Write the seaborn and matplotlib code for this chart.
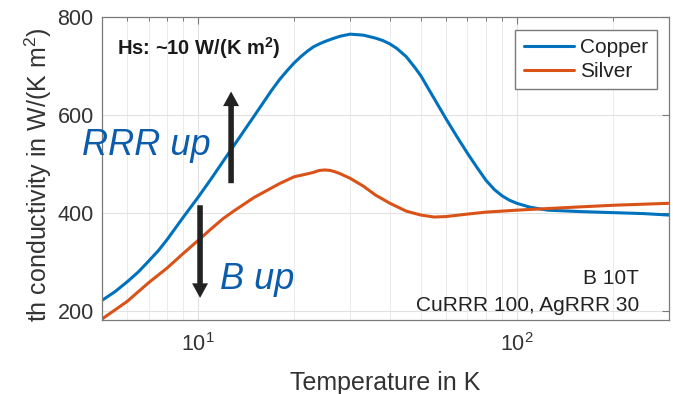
import numpy as np
import pandas as pd
import matplotlib
matplotlib.use("Agg")
import matplotlib.pyplot as plt
from matplotlib.ticker import LogLocator, FixedLocator
import seaborn as sns

# ---- data ----
T_cu = [5, 5.5, 6, 6.5, 7, 7.5, 8, 9, 10, 11, 12, 13, 15, 17, 18, 19, 20, 21,
        22, 23, 24, 25, 26.5, 28, 30, 33, 36, 38, 40, 42, 45, 48, 50, 55, 60, 65,
        70, 75, 80, 85, 90, 95, 100, 110, 125, 160, 200, 250, 300]
k_cu = [222, 240, 260, 280, 302, 323, 346, 392, 432, 470, 506, 539, 598, 650,
        672, 690, 706, 719, 730, 739, 745, 750, 756, 761, 765, 763, 757, 752,
        745, 736, 719, 696, 680, 634, 592, 555, 522, 493, 467, 448, 435, 426,
        420, 412, 406, 403, 401, 399, 396]
T_ag = [5, 6, 7, 8, 9, 10, 11, 12, 13, 15, 18, 20, 22, 23, 24, 25, 26, 27, 28,
        30, 33, 36, 40, 45, 50, 55, 60, 70, 80, 100, 150, 200, 300]
k_ag = [184, 220, 258, 288, 318, 344, 368, 389, 405, 432, 460, 474, 480, 483,
        487, 488, 487, 484, 480, 471, 455, 437, 420, 404, 396, 392, 393, 398,
        402, 406, 412, 416, 420]
series_names = ["Copper", "Silver"]
y_ticks = [200, 400, 600, 800]

df = pd.concat([
    pd.DataFrame({"T": T_cu, "k": k_cu, "Material": series_names[0]}),
    pd.DataFrame({"T": T_ag, "k": k_ag, "Material": series_names[1]}),
])

sns.set_theme(style="white")
plt.rcParams["font.family"] = ["Liberation Sans", "DejaVu Sans"]
plt.rcParams["mathtext.fontset"] = "custom"
plt.rcParams["mathtext.rm"] = "Liberation Sans"
plt.rcParams["mathtext.bf"] = "Liberation Sans:bold"

TXT = "#333333"
fig = plt.figure(figsize=(6.73, 3.94), dpi=100)
ax = fig.add_axes([102 / 673, 1 - 319.5 / 394, 567 / 673, 302.5 / 394])

palette = {"Copper": "#0072BD", "Silver": "#D95319"}
sns.lineplot(data=df, x="T", y="k", hue="Material", palette=palette,
             estimator=None, sort=True, lw=2.2, ax=ax)

ax.set_xscale("log")
ax.set_xlim(5, 300)
ax.set_ylim(183, 800)
ax.yaxis.set_major_locator(FixedLocator(y_ticks))
ax.xaxis.set_major_locator(LogLocator(base=10))
ax.xaxis.set_minor_locator(LogLocator(base=10, subs=np.arange(2, 10)))

ax.grid(True, which="major", color="#e2e2e2", lw=0.8)
ax.grid(True, which="minor", axis="x", color="#ebebeb", lw=0.7)
ax.set_axisbelow(True)
for s in ax.spines.values():
    s.set_color("#7a7a7a")
    s.set_linewidth(0.9)

ax.tick_params(which="both", direction="in", top=True, right=True,
               colors="#7a7a7a", labelcolor=TXT)
ax.tick_params(which="major", length=5, width=0.8, labelsize=15.5)
ax.tick_params(axis="x", which="major", pad=10)
ax.tick_params(axis="y", which="major", pad=6)
ax.tick_params(which="minor", length=3, width=0.7)

ax.set_xlabel("Temperature in K", fontsize=18, color=TXT, va="center")
ax.xaxis.set_label_coords(0.5, -0.21)
ax.set_ylabel("th conductivity in W/(K m$^2$)", fontsize=18, color=TXT, va="center")
ax.yaxis.set_label_coords(-0.113, 0.478)

handles, labels = ax.get_legend_handles_labels()
leg = ax.legend(handles, labels, loc="upper right", fontsize=15, frameon=True,
                fancybox=False, framealpha=1, edgecolor="#7a7a7a",
                handlelength=2.4, borderaxespad=0.6, borderpad=0.4,
                labelspacing=0.25, handletextpad=0.3)
for t in leg.get_texts():
    t.set_color("#222222")

# annotations
ax.text(0.026, 0.874, "Hs: ~10 W/(K m$\\mathbf{^2}$)", transform=ax.transAxes,
        fontsize=14.5, fontweight="bold", color="#1a1a1a", va="baseline")
ax.text(-0.035, 0.544, "RRR up", transform=ax.transAxes, fontsize=26,
        style="italic", color="#0b5cab", va="baseline", clip_on=False)
ax.text(0.208, 0.101, "B up", transform=ax.transAxes, fontsize=26,
        style="italic", color="#0b5cab", va="baseline")
ax.text(0.947, 0.117, "B 10T", transform=ax.transAxes, fontsize=15,
        color="#222222", ha="right", va="baseline")
ax.text(0.947, 0.028, "CuRRR 100, AgRRR 30", transform=ax.transAxes,
        fontsize=15, color="#222222", ha="right", va="baseline")

arrow_up = ((12.7, 461), (12.7, 648))
arrow_down = ((10.15, 416), (10.15, 227))
for tail, tip in (arrow_up, arrow_down):
    ax.annotate("", xy=tip, xytext=tail,
                arrowprops=dict(width=4, headwidth=11.5, headlength=10.5,
                                shrink=0, color="#222222", lw=0))

fig.savefig("out.png", dpi=100)
